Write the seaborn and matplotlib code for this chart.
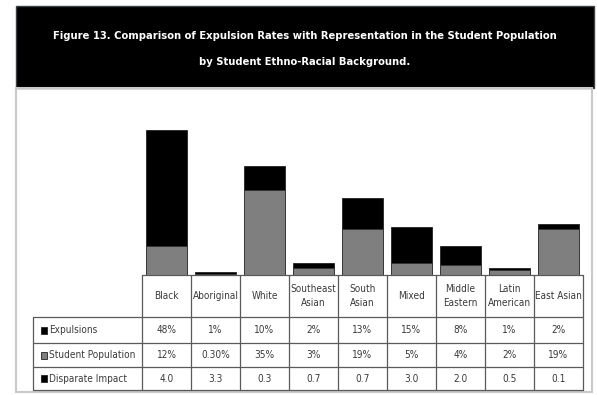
import matplotlib
matplotlib.use("Agg")
import matplotlib.pyplot as plt
from matplotlib import font_manager
from matplotlib.font_manager import FontProperties
from matplotlib.patches import Rectangle
from matplotlib.lines import Line2D
from matplotlib.transforms import blended_transform_factory
import seaborn as sns
import pandas as pd

# Data
groups = ["Black", "Aboriginal", "White", "Southeast Asian", "South Asian",
          "Mixed", "Middle Eastern", "Latin American", "East Asian"]
header_labels = ["Black", "Aboriginal", "White", "Southeast\nAsian", "South\nAsian",
                 "Mixed", "Middle\nEastern", "Latin\nAmerican", "East Asian"]
expulsions = [48, 1, 10, 2, 13, 15, 8, 1, 2]
student_pop = [12, 0.30, 35, 3, 19, 5, 4, 2, 19]
expulsion_labels = ["48%", "1%", "10%", "2%", "13%", "15%", "8%", "1%", "2%"]
population_labels = ["12%", "0.30%", "35%", "3%", "19%", "5%", "4%", "2%", "19%"]
disparate_impact = ["4.0", "3.3", "0.3", "0.7", "0.7", "3.0", "2.0", "0.5", "0.1"]
row_names = ["Expulsions", "Student Population", "Disparate Impact"]

sns.set_style("white")

# Prefer a narrow sans face when one is installed
fonts = font_manager.fontManager.ttflist
narrow = [f for f in fonts if f.stretch in ("condensed", "semi-condensed", "extra-condensed")
          or "Narrow" in f.name or "Condensed" in f.name]
if narrow:
    pick = narrow[0]
    base = FontProperties(family=pick.name, stretch=pick.stretch)
else:
    base = FontProperties(family="Liberation Sans")
plt.rcParams["font.family"] = [base.get_family()[0], "DejaVu Sans"]

W, H = 597, 395
fig = plt.figure(figsize=(W / 100, H / 100), dpi=100)
fig.patch.set_facecolor("white")
renderer = fig.canvas.get_renderer()


def fx(x):
    return x / W


def fy(y):
    return 1 - y / H


def fitted_size(text, target_px, weight="normal", start=10.0):
    fp = base.copy()
    fp.set_weight(weight)
    fp.set_size(start)
    t = fig.text(0, 0, text, fontproperties=fp)
    w = t.get_window_extent(renderer).width
    t.remove()
    return start * target_px / w


# Title band
fig.add_artist(Rectangle((fx(16), fy(88)), fx(594) - fx(16), fy(6) - fy(88),
                         transform=fig.transFigure, facecolor="black",
                         edgecolor="#3a4048", lw=1))
title1 = "Figure 13. Comparison of Expulsion Rates with Representation in the Student Population"
title2 = "by Student Ethno-Racial Background."
tsize = min(11.0, fitted_size(title1, 500, "bold"))
tfp = base.copy()
tfp.set_weight("bold")
tfp.set_size(tsize)
fig.text(fx(305), fy(36), title1, color="white", fontproperties=tfp, ha="center", va="center")
fig.text(fx(305), fy(62), title2, color="white", fontproperties=tfp, ha="center", va="center")

# Light frame around the chart area
fig.add_artist(Rectangle((fx(16), fy(392)), fx(592) - fx(16), fy(88) - fy(392),
                         transform=fig.transFigure, facecolor="none",
                         edgecolor="#c9c9c9", lw=1.5))

# Bar area
ax = fig.add_axes([fx(142), fy(275), fx(583) - fx(142), fy(100) - fy(275)])
df = pd.DataFrame({"group": groups,
                   "total": [e + p for e, p in zip(expulsions, student_pop)],
                   "population": student_pop})
sns.barplot(data=df, x="group", y="total", color="black", width=0.82,
            edgecolor="#222222", linewidth=0.6, saturation=1, ax=ax)
sns.barplot(data=df, x="group", y="population", color="#7f7f7f", width=0.82,
            edgecolor="#333333", linewidth=0.6, saturation=1, ax=ax)
ax.set_xlim(-0.5, len(groups) - 0.5)
ax.set_ylim(0, 72.4)
ax.axis("off")

# Data table under the bars
tr = blended_transform_factory(ax.transData, fig.transFigure)
line_kw = dict(color="#5a5a5a", lw=0.9)
csize = min(7.5, fitted_size("Student Population", 86))
cfp = base.copy()
cfp.set_size(csize)
text_kw = dict(fontproperties=cfp, color="#3a3a3a", ha="center", va="center")

rows_y = [275, 317, 343, 367, 390]
n = len(groups)
fig.add_artist(Line2D([-0.5, n - 0.5], [fy(275), fy(275)], transform=tr, **line_kw))
for y in rows_y[1:]:
    fig.add_artist(Line2D([fx(33), fx(583)], [fy(y), fy(y)],
                          transform=fig.transFigure, **line_kw))
for i in range(n + 1):
    fig.add_artist(Line2D([i - 0.5, i - 0.5], [fy(275), fy(390)], transform=tr, **line_kw))
fig.add_artist(Line2D([fx(33), fx(33)], [fy(317), fy(390)],
                      transform=fig.transFigure, **line_kw))

centers = [(rows_y[k] + rows_y[k + 1]) / 2 for k in range(4)]
for i in range(n):
    cells = [header_labels[i], expulsion_labels[i], population_labels[i], disparate_impact[i]]
    for k, s in enumerate(cells):
        fig.text(i, fy(centers[k]), s, transform=tr, linespacing=1.4, **text_kw)

# Row labels with legend keys
key_colors = ["black", "#7f7f7f", "black"]
for k, name in enumerate(row_names):
    cy = centers[k + 1]
    fig.add_artist(Rectangle((fx(41), fy(cy + 3.5)), fx(6), fy(0) - fy(7),
                             transform=fig.transFigure, facecolor=key_colors[k],
                             edgecolor="#222222", lw=0.6))
    fig.text(fx(49), fy(cy), name, fontproperties=cfp, color="#3a3a3a",
             ha="left", va="center")

fig.savefig("out.png", dpi=100)
